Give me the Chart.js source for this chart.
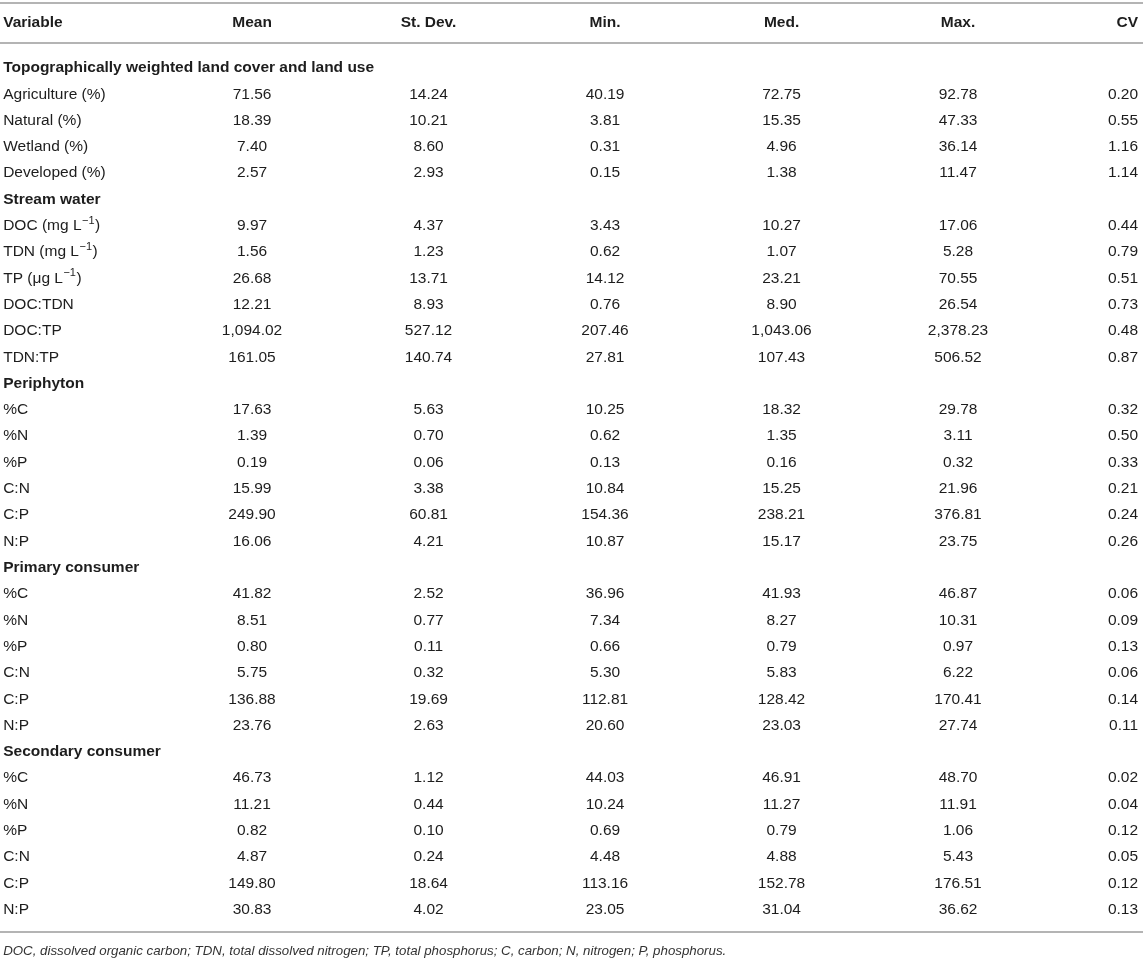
<!DOCTYPE html>
<html>
<head>
<meta charset="utf-8">
<script src="https://cdn.jsdelivr.net/npm/chart.js@4.4.0/dist/chart.umd.min.js"></script>
<style>
  body { margin: 0; background: #fff; }
  #wrap { width: 1143px; height: 960px; }
</style>
</head>
<body>
<div id="wrap"><canvas id="c1" width="1143" height="960"></canvas></div>
<script>
// column headers
var columns = ['Variable', 'Mean', 'St. Dev.', 'Min.', 'Med.', 'Max.', 'CV'];

// row names (section rows have null values)
var variables = [
  'Topographically weighted land cover and land use',
  'Agriculture (%)', 'Natural (%)', 'Wetland (%)', 'Developed (%)',
  'Stream water',
  'DOC (mg L\u207B\u00B9)', 'TDN (mg L\u207B\u00B9)', 'TP (\u03BCg L\u207B\u00B9)', 'DOC:TDN', 'DOC:TP', 'TDN:TP',
  'Periphyton',
  '%C', '%N', '%P', 'C:N', 'C:P', 'N:P',
  'Primary consumer',
  '%C', '%N', '%P', 'C:N', 'C:P', 'N:P',
  'Secondary consumer',
  '%C', '%N', '%P', 'C:N', 'C:P', 'N:P'
];
var sectionRows = [0, 5, 12, 19, 26];

var meanVals = [null, 71.56, 18.39, 7.40, 2.57, null, 9.97, 1.56, 26.68, 12.21, 1094.02, 161.05,
  null, 17.63, 1.39, 0.19, 15.99, 249.90, 16.06, null, 41.82, 8.51, 0.80, 5.75, 136.88, 23.76,
  null, 46.73, 11.21, 0.82, 4.87, 149.80, 30.83];
var sdVals = [null, 14.24, 10.21, 8.60, 2.93, null, 4.37, 1.23, 13.71, 8.93, 527.12, 140.74,
  null, 5.63, 0.70, 0.06, 3.38, 60.81, 4.21, null, 2.52, 0.77, 0.11, 0.32, 19.69, 2.63,
  null, 1.12, 0.44, 0.10, 0.24, 18.64, 4.02];
var minVals = [null, 40.19, 3.81, 0.31, 0.15, null, 3.43, 0.62, 14.12, 0.76, 207.46, 27.81,
  null, 10.25, 0.62, 0.13, 10.84, 154.36, 10.87, null, 36.96, 7.34, 0.66, 5.30, 112.81, 20.60,
  null, 44.03, 10.24, 0.69, 4.48, 113.16, 23.05];
var medVals = [null, 72.75, 15.35, 4.96, 1.38, null, 10.27, 1.07, 23.21, 8.90, 1043.06, 107.43,
  null, 18.32, 1.35, 0.16, 15.25, 238.21, 15.17, null, 41.93, 8.27, 0.79, 5.83, 128.42, 23.03,
  null, 46.91, 11.27, 0.79, 4.88, 152.78, 31.04];
var maxVals = [null, 92.78, 47.33, 36.14, 11.47, null, 17.06, 5.28, 70.55, 26.54, 2378.23, 506.52,
  null, 29.78, 3.11, 0.32, 21.96, 376.81, 23.75, null, 46.87, 10.31, 0.97, 6.22, 170.41, 27.74,
  null, 48.70, 11.91, 1.06, 5.43, 176.51, 36.62];
var cvVals = [null, 0.20, 0.55, 1.16, 1.14, null, 0.44, 0.79, 0.51, 0.73, 0.48, 0.87,
  null, 0.32, 0.50, 0.33, 0.21, 0.24, 0.26, null, 0.06, 0.09, 0.13, 0.06, 0.14, 0.11,
  null, 0.02, 0.04, 0.12, 0.05, 0.12, 0.13];

var footnote = 'DOC, dissolved organic carbon; TDN, total dissolved nitrogen; TP, total phosphorus; C, carbon; N, nitrogen; P, phosphorus.';

var valueCols = [meanVals, sdVals, minVals, medVals, maxVals, cvVals];

var FONT = '"Liberation Sans", Arial, Helvetica, sans-serif';
var TEXT = '#1d1d1d';
var RULE = '#b4b4b4';
var SUP = '\u207B\u00B9';

function fmt(v) {
  return v.toLocaleString('en-US', { minimumFractionDigits: 2, maximumFractionDigits: 2 });
}

// left-aligned label, with "−1" drawn as a real raised superscript
function drawLabel(ctx, txt, x, y, bold) {
  var base = (bold ? 'bold ' : '') + '15.5px ' + FONT;
  var k = txt.indexOf(SUP);
  ctx.textAlign = 'left';
  ctx.font = base;
  if (k < 0) { ctx.fillText(txt, x, y); return; }
  var a = txt.slice(0, k), b = txt.slice(k + SUP.length);
  ctx.fillText(a, x, y);
  x += ctx.measureText(a).width + 0.5;
  ctx.font = '11px ' + FONT;
  ctx.fillText('\u22121', x, y - 5);
  x += ctx.measureText('\u22121').width + 0.5;
  ctx.font = base;
  ctx.fillText(b, x, y);
}

// one invisible point per cell; the plugin writes the text where the point lands
var datasets = [];
datasets.push({
  label: 'Variable',
  data: variables.map(function (v, i) { return { x: -0.41, y: i + 1 }; }),
  pointRadius: 0, align: 'left'
});
for (var c = 0; c < valueCols.length; c++) {
  var pts = [];
  for (var r = 0; r < valueCols[c].length; r++) {
    if (valueCols[c][r] !== null) pts.push({ x: c === 5 ? 6.02 : c + 1, y: r + 1, v: valueCols[c][r] });
  }
  datasets.push({ label: columns[c + 1], data: pts, pointRadius: 0, align: c === 5 ? 'right' : 'center' });
}

var tablePlugin = {
  id: 'tableText',
  afterDatasetsDraw: function (chart) {
    var ctx = chart.ctx;
    var xs = chart.scales.x, ys = chart.scales.y;
    ctx.save();
    ctx.textBaseline = 'middle';

    // rules: top, under header, bottom
    ctx.strokeStyle = RULE;
    ctx.lineWidth = 2;
    [-1.47, 0.05, 33.85].forEach(function (v) {
      var y = Math.round(ys.getPixelForValue(v));
      ctx.beginPath();
      ctx.moveTo(0, y);
      ctx.lineTo(chart.width, y);
      ctx.stroke();
    });

    // header row
    ctx.fillStyle = TEXT;
    ctx.font = 'bold 15.5px ' + FONT;
    var hy = ys.getPixelForValue(-0.71);
    columns.forEach(function (name, i) {
      var x;
      if (i === 0) { ctx.textAlign = 'left'; x = xs.getPixelForValue(-0.41); }
      else if (i === 6) { ctx.textAlign = 'right'; x = xs.getPixelForValue(6.02); }
      else { ctx.textAlign = 'center'; x = xs.getPixelForValue(i); }
      ctx.fillText(name, x, hy);
    });

    // cells
    chart.data.datasets.forEach(function (ds, d) {
      var meta = chart.getDatasetMeta(d);
      meta.data.forEach(function (pt, i) {
        if (d === 0) {
          drawLabel(ctx, variables[i], pt.x, pt.y, sectionRows.indexOf(i) >= 0);
        } else {
          ctx.textAlign = ds.align;
          ctx.font = '15.5px ' + FONT;
          ctx.fillText(fmt(ds.data[i].v), pt.x, pt.y);
        }
      });
    });

    // footnote
    ctx.font = 'italic 13.3px ' + FONT;
    ctx.textAlign = 'left';
    ctx.fillStyle = '#333';
    ctx.fillText(footnote, xs.getPixelForValue(-0.41), ys.getPixelForValue(34.57));
    ctx.restore();
  }
};

var ctx = document.getElementById('c1').getContext('2d');
var chart1 = new Chart(ctx, {
  type: 'scatter',
  data: { datasets: datasets },
  options: {
    responsive: false,
    animation: false,
    layout: { padding: 0 },
    plugins: { legend: { display: false }, tooltip: { enabled: false } },
    scales: {
      x: { type: 'linear', min: -0.428, max: 6.048, display: false },
      y: { type: 'linear', min: -1.585, max: 34.915, reverse: true, display: false }
    }
  },
  plugins: [tablePlugin]
});
</script>
</body>
</html>
